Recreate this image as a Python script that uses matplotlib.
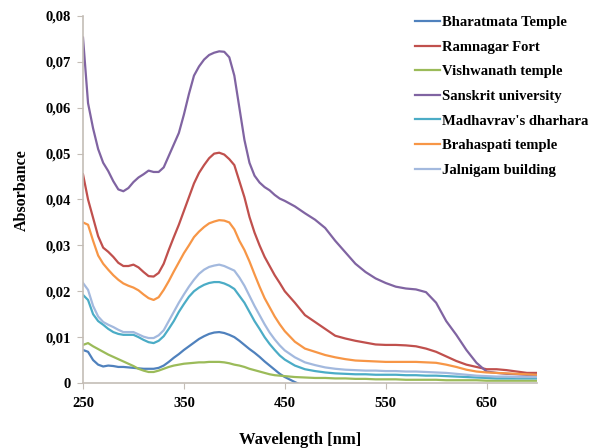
import matplotlib.pyplot as plt
from matplotlib.ticker import FuncFormatter, MultipleLocator

# wavelength grid [nm]
wavelength = [250, 255, 260, 265, 270, 275, 280, 285, 290, 295,
              300, 305, 310, 315, 320, 325, 330, 335, 340, 345,
              350, 355, 360, 365, 370, 375, 380, 385, 390, 395,
              400, 405, 410, 415, 420, 425, 430, 435, 440, 445,
              450, 460, 470, 480, 490, 500, 510, 520, 530, 540,
              550, 560, 570, 580, 590, 600, 610, 620, 630, 640,
              650, 660, 670, 680, 690, 700]

bharatmata = [0.0072, 0.0068, 0.0050, 0.0040, 0.0036, 0.0038, 0.0037, 0.0035, 0.0035, 0.0034,
              0.0033, 0.0032, 0.0031, 0.0031, 0.0031, 0.0033, 0.0038, 0.0046, 0.0055, 0.0063,
              0.0072, 0.0080, 0.0088, 0.0096, 0.0102, 0.0107, 0.0110, 0.0111, 0.0109, 0.0105,
              0.0100, 0.0092, 0.0083, 0.0074, 0.0066, 0.0057, 0.0047, 0.0038, 0.0029, 0.0020,
              0.0013, 0.0002, -0.0008, -0.0016, -0.0022, -0.0026, -0.0028, -0.0030, -0.0030, -0.0030,
              -0.0030, -0.0030, -0.0030, -0.0030, -0.0030, -0.0030, -0.0030, -0.0030, -0.0030, -0.0030,
              -0.0030, -0.0030, -0.0030, -0.0030, -0.0030, -0.0030]

ramnagar = [0.0455, 0.0400, 0.0360, 0.0320, 0.0295, 0.0286, 0.0275, 0.0262, 0.0255, 0.0255,
            0.0258, 0.0252, 0.0242, 0.0233, 0.0232, 0.0240, 0.0260, 0.0290, 0.0318, 0.0345,
            0.0375, 0.0405, 0.0435, 0.0458, 0.0475, 0.0490, 0.0500, 0.0502, 0.0498, 0.0488,
            0.0475, 0.0440, 0.0405, 0.0362, 0.0328, 0.0300, 0.0275, 0.0255, 0.0235, 0.0218,
            0.0200, 0.0175, 0.0148, 0.0133, 0.0118, 0.0103, 0.0097, 0.0092, 0.0088, 0.0084,
            0.0083, 0.0083, 0.0082, 0.0080, 0.0075, 0.0068, 0.0058, 0.0048, 0.0040, 0.0035,
            0.0030, 0.0030, 0.0028, 0.0025, 0.0022, 0.0022]

vishwanath = [0.0083, 0.0087, 0.0080, 0.0074, 0.0068, 0.0062, 0.0057, 0.0052, 0.0047, 0.0042,
              0.0037, 0.0031, 0.0027, 0.0024, 0.0024, 0.0027, 0.0031, 0.0035, 0.0038, 0.0040,
              0.0042, 0.0043, 0.0044, 0.0045, 0.0045, 0.0046, 0.0046, 0.0046, 0.0045, 0.0043,
              0.0040, 0.0038, 0.0035, 0.0031, 0.0028, 0.0025, 0.0022, 0.0019, 0.0017, 0.0016,
              0.0015, 0.0013, 0.0012, 0.0011, 0.0011, 0.0010, 0.0010, 0.0009, 0.0009, 0.0008,
              0.0008, 0.0008, 0.0007, 0.0007, 0.0007, 0.0007, 0.0006, 0.0006, 0.0006, 0.0006,
              0.0005, 0.0005, 0.0005, 0.0005, 0.0005, 0.0005]

sanskrit = [0.0753, 0.0610, 0.0555, 0.0510, 0.0480, 0.0462, 0.0440, 0.0422, 0.0418, 0.0425,
            0.0438, 0.0448, 0.0455, 0.0463, 0.0460, 0.0460, 0.0470, 0.0495, 0.0520, 0.0545,
            0.0585, 0.0630, 0.0670, 0.0690, 0.0705, 0.0715, 0.0720, 0.0723, 0.0722, 0.0710,
            0.0670, 0.0600, 0.0530, 0.0480, 0.0452, 0.0437, 0.0427, 0.0420, 0.0410, 0.0402,
            0.0397, 0.0385, 0.0370, 0.0356, 0.0338, 0.0310, 0.0285, 0.0260, 0.0242, 0.0228,
            0.0218, 0.0210, 0.0206, 0.0204, 0.0198, 0.0175, 0.0135, 0.0105, 0.0072, 0.0044,
            0.0025, 0.0022, 0.0020, 0.0019, 0.0018, 0.0018]

madhavrav = [0.0192, 0.0181, 0.0150, 0.0135, 0.0127, 0.0118, 0.0111, 0.0107, 0.0105, 0.0105,
             0.0105, 0.0100, 0.0094, 0.0089, 0.0087, 0.0092, 0.0102, 0.0118, 0.0135, 0.0155,
             0.0172, 0.0188, 0.0200, 0.0208, 0.0214, 0.0218, 0.0220, 0.0220, 0.0217, 0.0212,
             0.0205, 0.0190, 0.0175, 0.0155, 0.0135, 0.0118, 0.0100, 0.0085, 0.0072, 0.0060,
             0.0051, 0.0038, 0.0030, 0.0026, 0.0023, 0.0021, 0.0020, 0.0019, 0.0019, 0.0018,
             0.0018, 0.0018, 0.0017, 0.0017, 0.0016, 0.0016, 0.0015, 0.0014, 0.0013, 0.0012,
             0.0011, 0.0010, 0.0010, 0.0010, 0.0010, 0.0010]

brahaspati = [0.0350, 0.0345, 0.0310, 0.0278, 0.0260, 0.0247, 0.0235, 0.0225, 0.0217, 0.0212,
              0.0208, 0.0202, 0.0193, 0.0185, 0.0181, 0.0187, 0.0203, 0.0222, 0.0243, 0.0263,
              0.0283, 0.0300, 0.0318, 0.0330, 0.0340, 0.0348, 0.0352, 0.0355, 0.0354, 0.0350,
              0.0335, 0.0310, 0.0290, 0.0265, 0.0237, 0.0210, 0.0185, 0.0165, 0.0145, 0.0128,
              0.0113, 0.0090, 0.0075, 0.0068, 0.0061, 0.0056, 0.0052, 0.0049, 0.0048, 0.0047,
              0.0046, 0.0046, 0.0046, 0.0046, 0.0045, 0.0044, 0.0040, 0.0035, 0.0029, 0.0025,
              0.0023, 0.0022, 0.0021, 0.0020, 0.0019, 0.0018]

jalnigam = [0.0218, 0.0203, 0.0168, 0.0145, 0.0133, 0.0127, 0.0122, 0.0116, 0.0111, 0.0111,
            0.0111, 0.0106, 0.0101, 0.0098, 0.0098, 0.0104, 0.0115, 0.0135, 0.0155, 0.0175,
            0.0193, 0.0210, 0.0225, 0.0238, 0.0247, 0.0253, 0.0256, 0.0258, 0.0255, 0.0250,
            0.0245, 0.0230, 0.0212, 0.0190, 0.0168, 0.0148, 0.0128, 0.0110, 0.0095, 0.0082,
            0.0071, 0.0056, 0.0045, 0.0039, 0.0034, 0.0031, 0.0029, 0.0028, 0.0027, 0.0027,
            0.0026, 0.0026, 0.0025, 0.0025, 0.0024, 0.0023, 0.0022, 0.0020, 0.0018, 0.0016,
            0.0015, 0.0014, 0.0014, 0.0013, 0.0013, 0.0013]

names = ["Bharatmata Temple", "Ramnagar Fort", "Vishwanath temple", "Sanskrit university",
         "Madhavrav's dharhara", "Brahaspati temple", "Jalnigam building"]
series = [bharatmata, ramnagar, vishwanath, sanskrit, madhavrav, brahaspati, jalnigam]
colors = ["#4F81BD", "#C0504D", "#9BBB59", "#8064A2", "#4BACC6", "#F79646", "#A3B9DE"]
xticks = [250, 350, 450, 550, 650]

plt.rcParams['font.family'] = ['Liberation Serif', 'DejaVu Serif']
plt.rcParams['font.weight'] = 'bold'

fig = plt.figure(figsize=(5.89, 4.48), dpi=100)
ax = fig.add_axes([83 / 589, 65 / 448, 454 / 589, 367 / 448])

for vals, name, c in zip(series, names, colors):
    ax.plot(wavelength, vals, color=c, lw=1.6, label=name)

ax.set_xlim(250, 700)
ax.set_ylim(0, 0.08)
ax.set_xticks(xticks)
ax.yaxis.set_major_locator(MultipleLocator(0.01))
ax.yaxis.set_major_formatter(FuncFormatter(
    lambda v, p: '0' if abs(v) < 1e-9 else '{:.2f}'.format(v).replace('.', ',')))

for s in ['top', 'right']:
    ax.spines[s].set_visible(False)
for s in ['left', 'bottom']:
    ax.spines[s].set_color('#c4bdb6')
    ax.spines[s].set_linewidth(1.2)
ax.tick_params(colors='#c4bdb6', labelcolor='black', length=4, labelsize=10.5)
ax.tick_params(axis='x', pad=6)
ax.tick_params(axis='y', pad=5)
for t in ax.get_xticklabels() + ax.get_yticklabels():
    t.set_fontweight('bold')

fig.text(300 / 589, 1 - 440 / 448, 'Wavelength [nm]', ha='center', va='center',
         fontsize=12, fontweight='bold')
fig.text(22 / 589, 1 - 190 / 448, 'Absorbance', ha='center', va='center',
         rotation=90, fontsize=11.5, fontweight='bold')

leg = ax.legend(loc='upper left', bbox_to_anchor=(415 / 589, 1 - 16 / 448),
                bbox_transform=fig.transFigure, frameon=False,
                prop={'size': 10.5, 'weight': 'bold'},
                handlelength=1.7, handletextpad=0.15, labelspacing=0.78,
                borderaxespad=0, borderpad=0)

fig.savefig('out.png', dpi=100)
